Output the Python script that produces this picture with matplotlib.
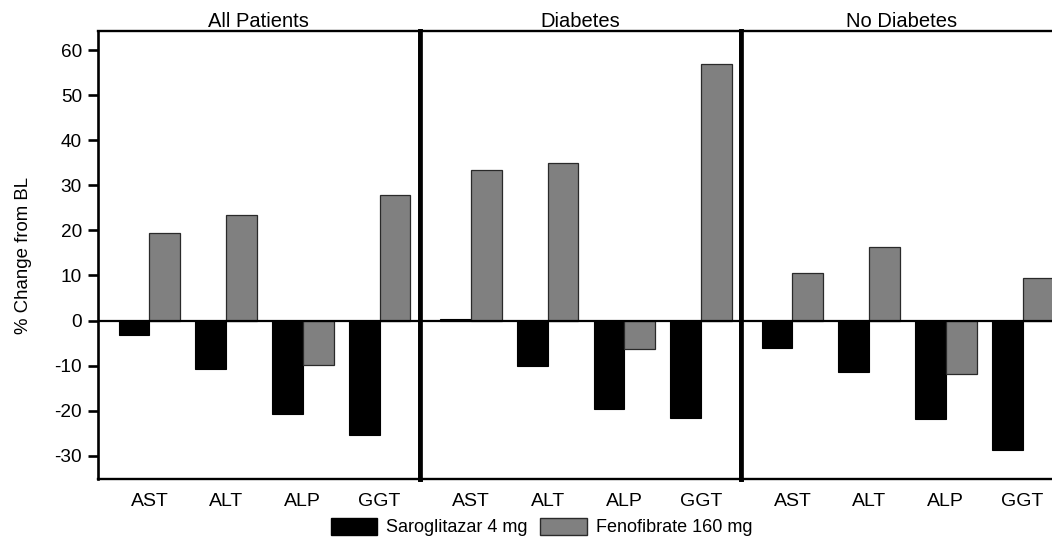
import matplotlib
matplotlib.use("Agg")
from matplotlib import pyplot as plt
from matplotlib.patches import Patch

plt.rcParams['font.family'] = ['Liberation Sans', 'DejaVu Sans']

# data
panels = ['All Patients', 'Diabetes', 'No Diabetes']
enzymes = ['AST', 'ALT', 'ALP', 'GGT']
saroglitazar = [
    [-3.2, -10.7, -20.7, -25.4],
    [0.3, -10.0, -19.6, -21.6],
    [-6.1, -11.4, -21.9, -28.8],
]
fenofibrate = [
    [19.4, 23.5, -9.8, 27.9],
    [33.5, 34.9, -6.4, 56.9],
    [10.5, 16.4, -11.9, 9.5],
]
y_ticks = [-30, -20, -10, 0, 10, 20, 30, 40, 50, 60]

W, H = 1052, 540
fig = plt.figure(figsize=(W / 100, H / 100), dpi=100)

left_px, top_px, bottom_px, panel_px = 98, 31, 479, 321.5
bar_w = 0.4
x = list(range(len(enzymes)))

for i, name in enumerate(panels):
    ax = fig.add_axes([(left_px + i * panel_px) / W, 1 - bottom_px / H,
                       panel_px / W, (bottom_px - top_px) / H])
    ax.bar([v - bar_w / 2 for v in x], saroglitazar[i], bar_w,
           color='black', edgecolor='black', linewidth=0.8, zorder=2)
    ax.bar([v + bar_w / 2 for v in x], fenofibrate[i], bar_w,
           color='#808080', edgecolor='#2a2a2a', linewidth=0.9, zorder=2)
    ax.axhline(0, color='black', lw=1.6, zorder=3)
    ax.set_xlim(-0.67, 3.52)
    ax.set_ylim(-35.2, 64.3)
    ax.set_xticks(x)
    ax.set_xticklabels(enzymes, fontsize=14)
    ax.tick_params(axis='x', length=0, pad=10)
    ax.set_title(name, fontsize=14.5, pad=3)

    for s in ['top', 'bottom']:
        ax.spines[s].set_linewidth(1.7)
    ax.spines['left'].set_linewidth(1.9 if i == 0 else 3.4)
    ax.spines['right'].set_linewidth(3.4)
    if i == 2:
        ax.spines['right'].set_visible(False)

    if i == 0:
        ax.set_yticks(y_ticks)
        ax.set_yticklabels([str(t) for t in y_ticks], fontsize=13.7)
        ax.tick_params(axis='y', length=7.5, width=1.9, pad=4)
        ax.set_ylabel('% Change from BL', fontsize=13.4, labelpad=16)
    else:
        ax.set_yticks([])

handles = [Patch(facecolor='black', edgecolor='black', label='Saroglitazar 4 mg'),
           Patch(facecolor='#808080', edgecolor='#2a2a2a', label='Fenofibrate 160 mg')]
fig.legend(handles=handles, loc='center', bbox_to_anchor=(0.5147, 0.024),
           ncol=2, frameon=False, fontsize=13, handlelength=2.55, handleheight=1.05,
           handletextpad=0.5, columnspacing=0.72, borderpad=0, borderaxespad=0)

fig.savefig('out.png', dpi=100)
